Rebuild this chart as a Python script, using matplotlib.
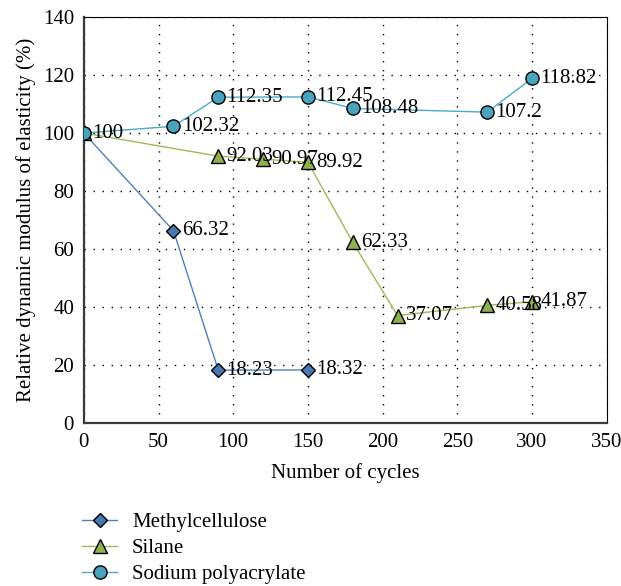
import matplotlib
matplotlib.use("Agg")
import matplotlib.pyplot as plt

plt.rcParams['font.family'] = ['Liberation Serif', 'DejaVu Serif']

# data
mc_x = [0, 60, 90, 150]
mc_y = [100, 66.32, 18.23, 18.32]
si_x = [0, 90, 120, 150, 180, 210, 270, 300]
si_y = [100, 92.03, 90.97, 89.92, 62.33, 37.07, 40.58, 41.87]
sp_x = [0, 60, 90, 150, 180, 270, 300]
sp_y = [100, 102.32, 112.35, 112.45, 108.48, 107.2, 118.82]
series_names = ["Methylcellulose", "Silane", "Sodium polyacrylate"]

fig = plt.figure(figsize=(6.21, 5.86), dpi=100)
ax = fig.add_axes([0.135, 0.278, 0.842, 0.693])

ax.plot(mc_x, mc_y, '-D', color='#4f81bd', mfc='#4a78b0', mec='black',
        mew=1, ms=7.5, lw=1, label=series_names[0], zorder=3)
ax.plot(si_x, si_y, '-^', color='#9bbb59', mfc='#8fb04e', mec='black',
        mew=1, ms=9.5, lw=1, label=series_names[1], zorder=3)
ax.plot(sp_x, sp_y, '-o', color='#4bacc6', mfc='#4aa3bd', mec='black',
        mew=1, ms=9.5, lw=1, label=series_names[2], zorder=4)

fs = 15
for xs, ys in [(mc_x, mc_y), (si_x, si_y), (sp_x, sp_y)]:
    for x, y in zip(xs, ys):
        # the shared starting point is labelled only once
        if x == 0 and ys is not sp_y:
            continue
        ax.annotate(f"{y:g}", (x, y), xytext=(6, 0), textcoords='offset points',
                    va='center', ha='left', fontsize=fs, zorder=5)

ax.set_xlim(0, 350)
ax.set_ylim(0, 140)
ax.set_xticks(range(0, 351, 50))
ax.set_yticks(range(0, 141, 20))
ax.tick_params(length=0, labelsize=fs, pad=7)
ax.grid(True, color='black', linestyle=(0, (1, 5.5)), linewidth=1)
for s in ['left', 'bottom']:
    ax.spines[s].set_color('#3a3a3a')
    ax.spines[s].set_linewidth(1.6)
for s in ['top', 'right']:
    ax.spines[s].set_color('black')
    ax.spines[s].set_linewidth(0.8)

ax.set_xlabel("Number of cycles", fontsize=fs, labelpad=8)
ax.set_ylabel("Relative dynamic modulus of elasticity (%)", fontsize=fs, labelpad=5)

fig.legend(loc='upper left', bbox_to_anchor=(0.132, 0.125), frameon=False,
           fontsize=fs, handlelength=1.7, handletextpad=0.7, labelspacing=0.3,
           borderaxespad=0, borderpad=0)

fig.savefig("out.png", dpi=100)
